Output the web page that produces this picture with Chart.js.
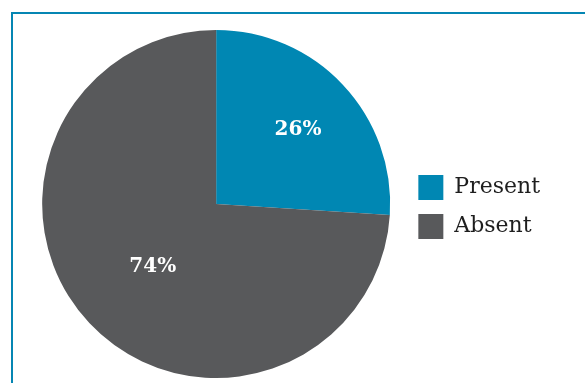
<!DOCTYPE html>
<html lang="en">
<head>
  <meta charset="UTF-8" />
  <title>Present vs Absent</title>
  <script src="https://cdn.jsdelivr.net/npm/chart.js"></script>
  <style>
    body {
      margin: 0;
      background: #ffffff;
      width: 585px;
      height: 383px;
      overflow: hidden;
      position: relative;
    }
    .marco {
      position: absolute;
      left: 11px;
      top: 12px;
      width: 600px;
      height: 400px;
      border-left: 2px solid #0586b3;
      border-top: 2px solid #0586b3;
    }
    .grafica {
      position: absolute;
      left: 0;
      top: 0;
      width: 585px;
      height: 383px;
    }
  </style>
</head>
<body>
  <div class="marco"></div>
  <div class="grafica">
    <canvas id="canvasGrafica" width="585" height="383"></canvas>
  </div>

  <script>
    const categorias = ['Present', 'Absent'];
    const valores = [26, 74];
    const colores = ['#0087b3', '#58595b'];

    // etiquetas de porcentaje dentro de cada porción
    const etiquetasPorcentaje = {
      id: 'etiquetasPorcentaje',
      afterDatasetsDraw(chart) {
        const ctx = chart.ctx;
        const meta = chart.getDatasetMeta(0);
        const total = valores.reduce((a, b) => a + b, 0);
        const fracRadio = [0.645, 0.5];
        ctx.save();
        ctx.fillStyle = '#ffffff';
        ctx.font = 'bold 20px "DejaVu Serif", serif';
        ctx.textAlign = 'center';
        ctx.textBaseline = 'alphabetic';
        meta.data.forEach((arc, i) => {
          const p = arc.getProps(['x', 'y', 'startAngle', 'endAngle', 'outerRadius']);
          const ang = (p.startAngle + p.endAngle) / 2;
          const r = p.outerRadius * fracRadio[i];
          const pct = Math.round(valores[i] / total * 100) + '%';
          ctx.fillText(pct, p.x + Math.cos(ang) * r, p.y + Math.sin(ang) * r + 8);
        });
        ctx.restore();
      }
    };

    new Chart(document.getElementById('canvasGrafica'), {
      type: 'pie',
      data: {
        labels: categorias,
        datasets: [{
          data: valores,
          backgroundColor: colores,
          borderWidth: 0
        }]
      },
      options: {
        responsive: false,
        animation: false,
        layout: { padding: { left: 28, right: 35, top: 30, bottom: 5 } },
        plugins: {
          tooltip: { enabled: false },
          legend: {
            position: 'right',
            // título vacío: solo baja un poco las entradas
            title: { display: true, text: '', font: { size: 5 }, padding: 0 },
            labels: {
              boxWidth: 25,
              boxHeight: 25,
              padding: 14,
              color: '#1e1e1e',
              font: { family: '"DejaVu Serif", serif', size: 22 }
            }
          }
        }
      },
      plugins: [etiquetasPorcentaje]
    });
  </script>
</body>
</html>
